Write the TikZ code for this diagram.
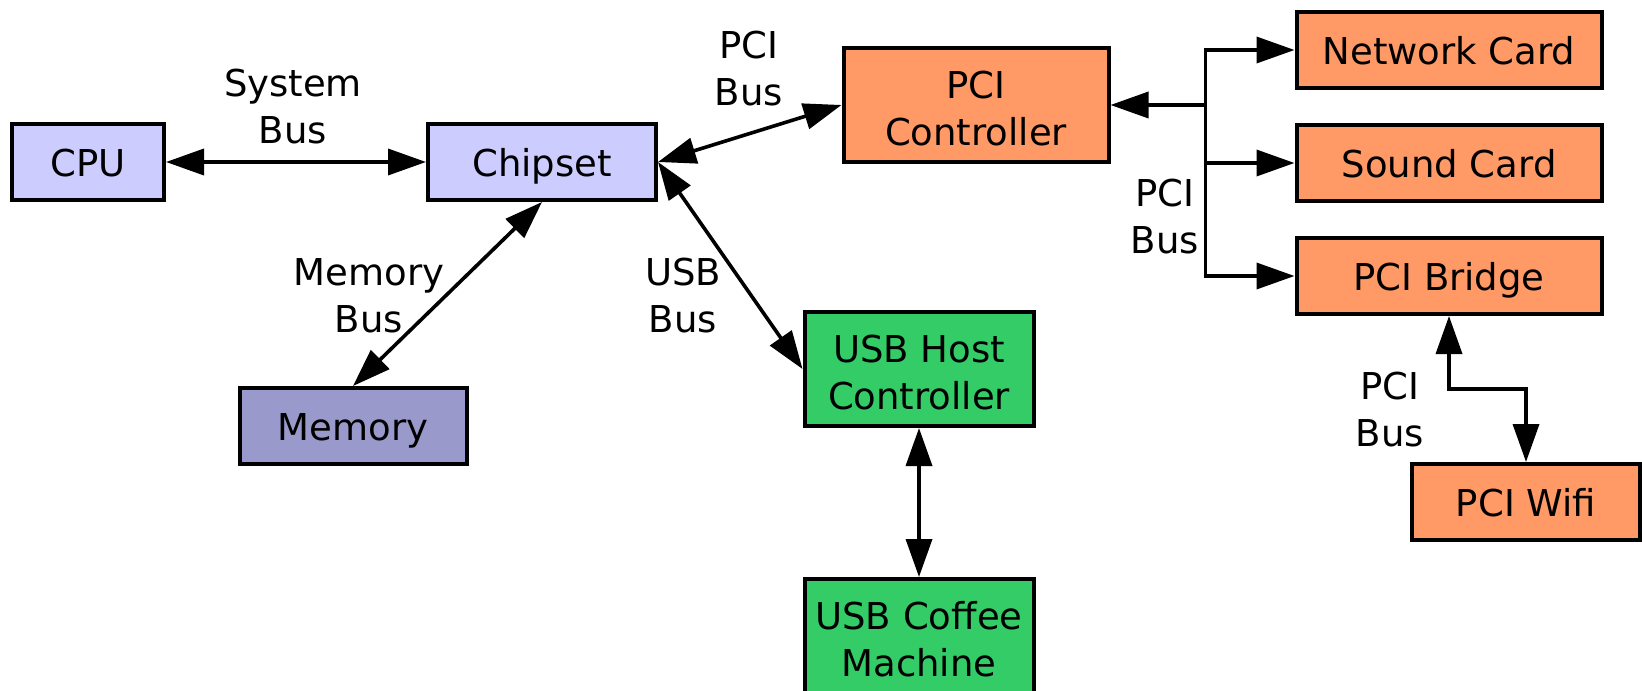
\documentclass[tikz,border=0pt]{standalone}
\usepackage{fontspec}
\setmainfont{DejaVu Sans}
\usetikzlibrary{positioning, arrows.meta, calc}

\definecolor{cpublue}{HTML}{CCCCFF}
\definecolor{memblue}{HTML}{9999CC}
\definecolor{pciorange}{HTML}{FF9966}
\definecolor{usbgreen}{HTML}{33CC66}

\begin{document}
\begin{tikzpicture}[
x=0.5pt, y=-0.5pt,
every node/.style={font=\fontsize{18.5}{23.5}\selectfont},
box/.style={draw, line width=2pt, inner sep=0pt, minimum height=38pt, align=center,
  text height=14.5pt, text depth=0pt},
tall box/.style={box, minimum height=57pt, text height=40pt, text depth=0pt},
bus label/.style={align=center, inner sep=0pt},
arrow/.style={line width=1.8pt, {Triangle[length=19pt,width=13pt]}-{Triangle[length=19pt,width=13pt]}},
oneway/.style={line width=1.8pt, -{Triangle[length=19pt,width=13pt]}},
]
\useasboundingbox (0,0) rectangle (1642,690);

% CPU side
\node[box, fill=cpublue, minimum width=114pt] (chipset) at (542,162) {Chipset};
\node[box, fill=cpublue, minimum width=76pt, left=130pt of chipset] (cpu) {CPU};
\node[box, fill=memblue, minimum width=113.5pt] (memory) at (353,426) {Memory};

% PCI and USB controllers
\node[tall box, fill=pciorange, minimum width=132.5pt] (pcictl) at (976,105) {PCI\\Controller};
\node[tall box, fill=usbgreen, minimum width=114.5pt] (usbhost) at (919,369) {USB Host\\Controller};
\node[tall box, fill=usbgreen, minimum width=114.5pt, below=74.5pt of usbhost] (coffee) {USB Coffee\\Machine};

% PCI devices
\node[box, fill=pciorange, minimum width=152.5pt] (netcard) at (1449,50) {Network Card};
\node[box, fill=pciorange, minimum width=152.5pt, below=16.5pt of netcard] (sound) {Sound Card};
\node[box, fill=pciorange, minimum width=152.5pt, below=16.5pt of sound] (bridge) {PCI Bridge};
\node[box, fill=pciorange, minimum width=114pt] (wifi) at (1526,502) {PCI Wifi};

% Bus labels
\node[bus label] (syslabel) at (293,107) {System\\Bus};
\node[bus label] (pcilabel) at (749,69) {PCI\\Bus};
\node[bus label] (memlabel) at (369,296) {Memory\\Bus};
\node[bus label] (usblabel) at (683,296) {USB\\Bus};
\node[bus label] (pcilabel2) at (1165,217) {PCI\\Bus};
\node[bus label] (pcilabel3) at (1390,410) {PCI\\Bus};

% Buses from the chipset
\draw[arrow] (cpu) -- (chipset);
\draw[arrow] (chipset.east) -- (pcictl.west);
\draw[arrow] (chipset.east) -- (usbhost.west);
\draw[arrow] (chipset.south) -- (memory.north);
\draw[arrow] (usbhost) -- (coffee);

% PCI bus fan-out
\coordinate[right=47.5pt of pcictl.east] (pcibus);
\draw[oneway] (pcibus) -- (pcictl.east);
\draw[oneway] (pcibus) |- (netcard.west);
\draw[oneway] (pcibus) |- (sound.west);
\draw[oneway] (pcibus) |- (bridge.west);
\draw[arrow] (bridge.south) |- ($(bridge.south)!.5!(wifi.north)$) -| (wifi.north);
\end{tikzpicture}
\end{document}
